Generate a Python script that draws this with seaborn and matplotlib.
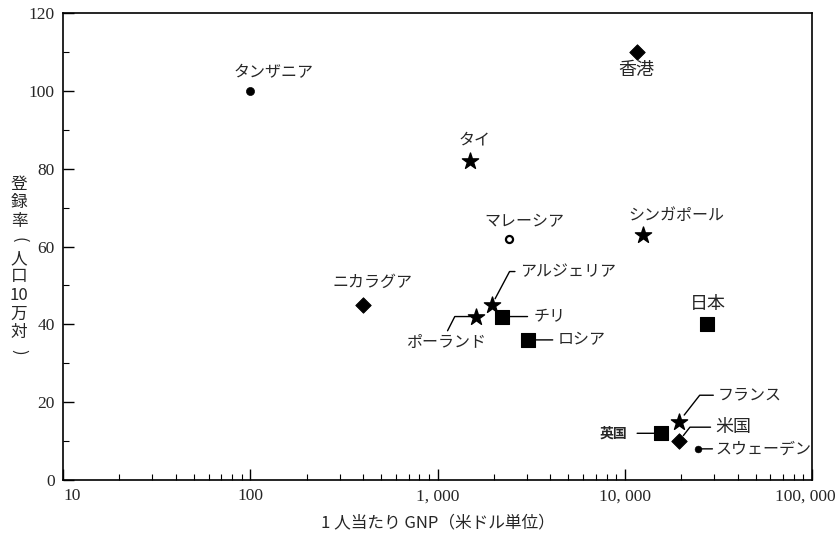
import seaborn as sns
import matplotlib.pyplot as plt
import pandas as pd
from matplotlib.ticker import FixedLocator, FixedFormatter, LogLocator, NullFormatter
from matplotlib.transforms import ScaledTranslation

# data
countries = ["タンザニア", "香港", "タイ", "マレーシア", "シンガポール",
             "ニカラグア", "アルジェリア", "ポーランド", "チリ", "ロシア",
             "日本", "フランス", "英国", "米国", "スウェーデン"]
gnp = [100, 11600, 1500, 2400, 12500,
       400, 1950, 1600, 2200, 3050,
       27500, 19500, 15600, 19500, 24500]
rate = [100, 110, 82, 62, 63,
        45, 45, 42, 42, 36,
        40, 15, 12, 10, 8]
kind = ["dot", "diamond", "star", "open", "star",
        "diamond", "star", "star", "square", "square",
        "square", "star", "square", "diamond", "small"]

x_ticks = [10, 100, 1000, 10000, 100000]
x_labels = ["10", "100", "1, 000", "10, 000", "100, 000"]
y_ticks = [0, 20, 40, 60, 80, 100, 120]
ylabel_chars = ["登", "録", "率", "(", "人", "口", "10", "万", "対", ")"]

df = pd.DataFrame({"country": countries, "gnp": gnp, "rate": rate, "kind": kind})

sns.set_style("white")
JP = ["Noto Sans CJK JP", "DejaVu Sans"]
SERIF = "Liberation Serif"

fig = plt.figure(figsize=(8.38, 5.36), dpi=100)
ax = fig.add_axes([0.0752, 0.1045, 0.8938, 0.8712])

# marker styles per kind
styles = {
    "dot":     dict(marker="o", s=34, color="black", edgecolor="black"),
    "small":   dict(marker="o", s=24, color="black", edgecolor="black"),
    "open":    dict(marker="o", s=26, color="white", edgecolor="black", linewidth=1.6),
    "diamond": dict(marker="D", s=62, color="black", edgecolor="black"),
    "star":    dict(marker="*", s=150, color="black", edgecolor="black"),
    "square":  dict(marker="s", s=95, color="black", edgecolor="black"),
}
for k, st in styles.items():
    sub = df[df["kind"] == k]
    sns.scatterplot(data=sub, x="gnp", y="rate", ax=ax, legend=False, zorder=3, **st)

ax.set_xscale("log")
ax.set_xlim(10, 100000)
ax.set_ylim(0, 120)

# labels: offset (pt), alignment, leader line
plain = lambda dx, dy, fs=11.5: dict(off=(dx, dy), ha="center", fs=fs, arrow=None)
label_pos = {
    "タンザニア": plain(17, 13),
    "香港": plain(0, -13, 13),
    "タイ": plain(3, 15),
    "マレーシア": plain(11.5, 12),
    "シンガポール": plain(24, 14),
    "ニカラグア": plain(6.5, 16),
    "日本": plain(0.7, 15, 13),
    "フランス": dict(off=(28, 19), ha="left", fs=11.5,
                  arrow=dict(relpos=(0, 0.5), cs="angle,angleA=0,angleB=52,rad=0", sA=1, sB=6)),
    "米国": dict(off=(26, 10), ha="left", fs=13,
               arrow=dict(relpos=(0, 0.5), cs="angle,angleA=0,angleB=52,rad=0", sA=1, sB=5)),
    "スウェーデン": dict(off=(13, 0), ha="left", fs=11.5,
                    arrow=dict(relpos=(0, 0.5), cs="arc3", sA=0, sB=1)),
    "英国": dict(off=(-24.5, 0), ha="right", fs=10, weight="bold",
               arrow=dict(relpos=(1, 0.5), cs="arc3", sA=5, sB=4.5)),
    "チリ": dict(off=(23, 0), ha="left", fs=11.5,
               arrow=dict(relpos=(0, 0.5), cs="arc3", sA=2, sB=5)),
    "ロシア": dict(off=(21, 0), ha="left", fs=11.5,
                arrow=dict(relpos=(0, 0.5), cs="arc3", sA=1, sB=5)),
    "アルジェリア": dict(off=(20, 24), ha="left", fs=11.5,
                    arrow=dict(relpos=(0, 0.5), cs="angle,angleA=0,angleB=62,rad=0", sA=1, sB=5)),
    "ポーランド": dict(off=(-21.5, -18.7), ha="center", fs=11.5,
                   arrow=dict(relpos=(0.5, 1), cs="angle,angleA=63,angleB=0,rad=0", sA=0, sB=4)),
}

for name, x, y in zip(countries, gnp, rate):
    p = label_pos[name]
    kw = dict(xytext=p["off"], textcoords="offset points", ha=p["ha"], va="center",
              fontsize=p["fs"], family=JP, fontweight=p.get("weight", "normal"))
    if p["arrow"] is not None:
        a = p["arrow"]
        kw["arrowprops"] = dict(arrowstyle="-", color="black", lw=1.0, relpos=a["relpos"],
                                connectionstyle=a["cs"], shrinkA=a["sA"], shrinkB=a["sB"])
    ax.annotate(name, (x, y), **kw)

# axes styling
for side in ["left", "bottom", "top", "right"]:
    ax.spines[side].set_visible(True)
    ax.spines[side].set_color("black")
    ax.spines[side].set_linewidth(1.2)

ax.xaxis.set_major_locator(FixedLocator(x_ticks))
ax.xaxis.set_major_formatter(FixedFormatter(x_labels))
ax.xaxis.set_minor_locator(LogLocator(base=10, subs=range(2, 10), numticks=50))
ax.xaxis.set_minor_formatter(NullFormatter())
ax.yaxis.set_major_locator(FixedLocator(y_ticks))
ax.yaxis.set_minor_locator(FixedLocator([10, 30, 50, 70, 90, 110]))
ax.tick_params(axis="both", which="both", direction="in", color="black",
               top=False, right=False, bottom=True, left=True)
ax.tick_params(axis="both", which="major", length=8, width=1.0, labelsize=12.5, pad=6)
ax.tick_params(axis="both", which="minor", length=4, width=0.8)
for lab in ax.get_xticklabels() + ax.get_yticklabels():
    lab.set_family(SERIF)

# first and last x labels sit inside / flush with the figure edge
xt = ax.xaxis.get_major_ticks()
xt[0].label1.set_horizontalalignment("left")
xt[-1].label1.set_horizontalalignment("right")
xt[-1].label1.set_transform(xt[-1].label1.get_transform()
                            + ScaledTranslation(0.24, 0, fig.dpi_scale_trans))

ax.set_xlabel("")
ax.set_ylabel("")
fig.text(0.522, 0.025, "1 人当たり GNP（米ドル単位）", ha="center", va="center",
         fontsize=12, family=JP)

# vertical y label, one character per line, brackets turned
y0, step = 536 - 184, 18.6
for i, ch in enumerate(ylabel_chars):
    rot = 270 if ch in "()" else 0
    fig.text(19 / 838, (y0 - i * step) / 536, ch, ha="center", va="center",
             fontsize=12, family=JP, rotation=rot)

plt.savefig("out.png", dpi=100)
plt.close()
